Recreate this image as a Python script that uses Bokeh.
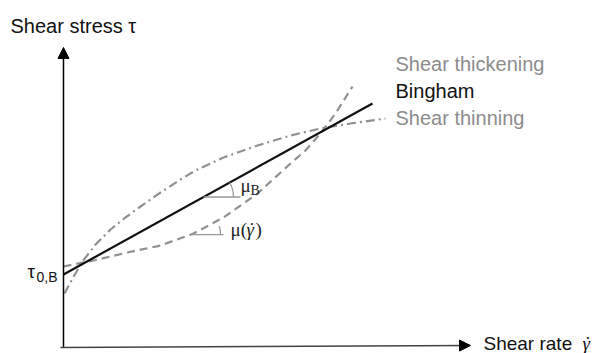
from bokeh.plotting import figure
from bokeh.models import Range1d, Arrow, NormalHead
from bokeh.core.properties import value
from bokeh.embed import file_html
from bokeh.resources import INLINE
import math

# ---- schematic data (shear rate, shear stress), arbitrary units ----
rate_thick = [0, 30, 64, 97, 130, 160, 194, 227, 242, 257, 272, 289]
stress_thick = [81, 87, 95, 102, 114, 130, 154, 184, 197, 214, 234, 261]

rate_thin = [1, 9, 19, 32, 47, 62, 77, 97, 117, 132, 160, 194, 227, 257, 287, 322]
stress_thin = [54, 69, 86, 103, 118, 130, 141, 155, 168, 177, 190, 202, 212, 219, 224, 229]

rate_bingham = [0, 309]
stress_bingham = [73, 244]

# axis extents
y_axis_x = [0, 0]
y_axis_y = [0, 300]
x_axis_x = [-3, 407]
x_axis_y = [0, 2]

# tangent points for slope markers
tan_b_rate = 140
tan_t_rate = 127

legend_labels = ["Shear thickening", "Bingham", "Shear thinning"]
legend_colors = ["#8c8c8c", "#111111", "#8c8c8c"]

GRAY = "#919191"
SANS = "Liberation Sans"
SERIF = "Liberation Serif"

p = figure(width=595, height=353,
           x_range=Range1d(-63, 532), y_range=Range1d(-6, 347),
           output_backend="svg", toolbar_location=None,
           x_axis_location=None, y_axis_location=None,
           min_border=0)
p.grid.visible = False
p.outline_line_color = None
p.styles = {"position": "absolute", "left": "0px", "top": "0px"}


def label(x, y, text, size, font=SANS, color="#111111", style="normal", align="left"):
    # baseline correction for the svg backend
    dy = 0.38 * size
    p.text(x=x, y=[v + dy for v in y], text=text, text_font=value(font),
           text_font_size=f"{size}px", text_color=color, text_font_style=style,
           text_baseline="alphabetic", text_align=align)


# curves
p.line(rate_thick, stress_thick, line_color=GRAY, line_width=2.2, line_dash="8 5")
p.line(rate_thin, stress_thin, line_color=GRAY, line_width=2.2, line_dash="9 4 2 4")
p.line(rate_bingham, stress_bingham, line_color="#111111", line_width=2.2)

# axes with arrow heads
p.add_layout(Arrow(end=NormalHead(size=11, fill_color="black", line_color="black"),
                   x_start=y_axis_x[0], y_start=y_axis_y[0],
                   x_end=y_axis_x[1], y_end=y_axis_y[1],
                   line_color="black", line_width=1.5))
p.add_layout(Arrow(end=NormalHead(size=11, fill_color="black", line_color="black"),
                   x_start=x_axis_x[0], y_start=x_axis_y[0],
                   x_end=x_axis_x[1], y_end=x_axis_y[1],
                   line_color="#444444", line_width=1.5))

# slope markers
slope_b = (stress_bingham[1] - stress_bingham[0]) / (rate_bingham[1] - rate_bingham[0])
yb = stress_bingham[0] + slope_b * tan_b_rate
ang_b = math.atan(slope_b)
p.line([tan_b_rate, tan_b_rate + 37], [yb, yb], line_color="#999999", line_width=1.3)
p.arc(x=[tan_b_rate], y=[yb], radius=30, start_angle=0, end_angle=ang_b,
      line_color="#999999", line_width=1.3)

i = 3
yt = stress_thick[i] + (stress_thick[i + 1] - stress_thick[i]) * (tan_t_rate - rate_thick[i]) / (rate_thick[i + 1] - rate_thick[i])
slope_t = (stress_thick[i + 1] - stress_thick[i - 1]) / (rate_thick[i + 1] - rate_thick[i - 1])
ang_t = math.atan(slope_t)
p.line([tan_t_rate, tan_t_rate + 33], [yt, yt], line_color="#999999", line_width=1.3)
p.arc(x=[tan_t_rate], y=[yt], radius=30, start_angle=0, end_angle=ang_t,
      line_color="#999999", line_width=1.3)

label([tan_b_rate + 37], [yb + 4], ["μ"], 19, font=SERIF, color="#222222")
label([tan_b_rate + 47], [yb + 1], ["B"], 14, font=SERIF, color="#222222")
label([tan_t_rate + 40], [yt - 2], ["μ("], 19, font=SERIF, color="#222222")
label([tan_t_rate + 56], [yt - 2], ["γ"], 19, font=SERIF, color="#222222", style="italic")
label([tan_t_rate + 61.5], [yt - 2], ["˙"], 19, font=SERIF, color="#222222", align="center")
label([tan_t_rate + 65], [yt - 2], [")"], 19, font=SERIF, color="#222222")

# tau_0,B label
label([-36], [69], ["τ"], 19)
label([-27], [65], ["0,B"], 14)

# axis titles
label([-53], [314], ["Shear stress τ"], 20)
label([420], [-3], ["Shear rate"], 19)
label([519], [-3], ["γ"], 19, font=SERIF, style="italic")
label([524.5], [-3], ["˙"], 19, font=SERIF, align="center")

# legend labels
label([332, 332, 332], [276, 249, 222], legend_labels, 20, color=legend_colors)

open("out.html", "w").write(file_html(p, INLINE))
